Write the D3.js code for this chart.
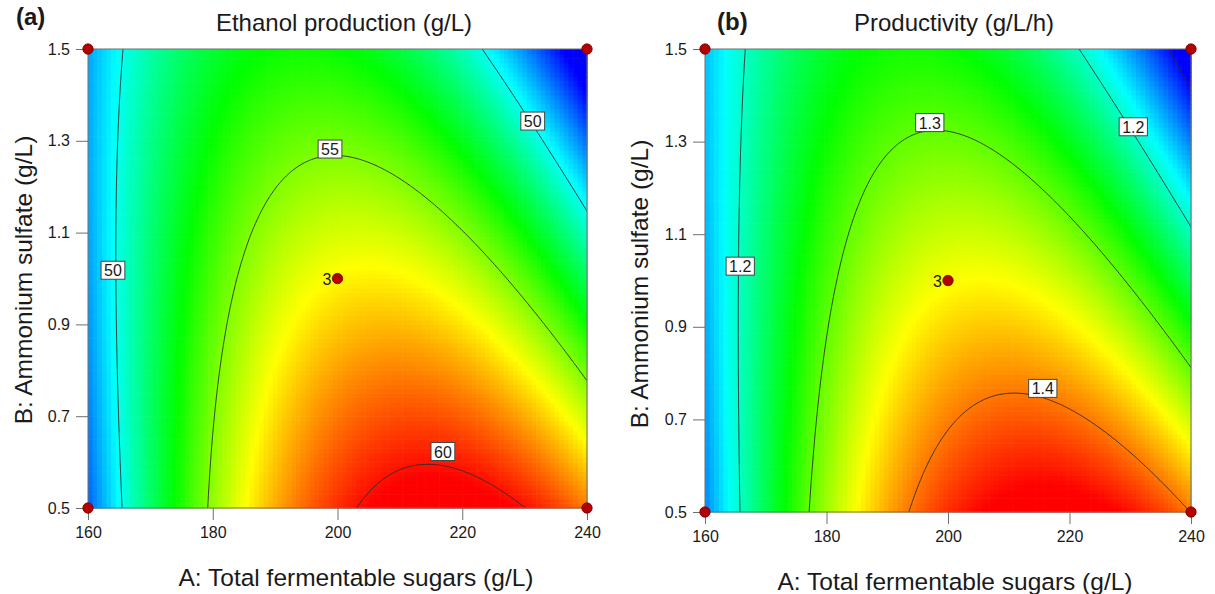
<!DOCTYPE html>
<html>
<head>
<meta charset="utf-8">
<script src="https://cdn.jsdelivr.net/npm/d3@7"></script>
<style>
  body { margin: 0; background: #fff; }
  text { font-family: "Liberation Sans", Arial, sans-serif; fill: #1a1a1a; }
</style>
</head>
<body>
<svg id="chart" width="1215" height="594"></svg>
<script>
// factor ranges (actual units) and tick labels
var sugarRange = [160, 240];
var sulfateRange = [0.5, 1.5];
var sugarTicks = [160, 180, 200, 220, 240];
var sulfateTicks = [0.5, 0.7, 0.9, 1.1, 1.3, 1.5];

// quadratic model in coded units: Intercept, A, B, AB, A^2, B^2
var modelTerms = ["Intercept", "A", "B", "AB", "A^2", "B^2"];
var ethanolCoef = [56.80, 1.81, -3.17, -3.65, -6.58, -0.35];
var productivityCoef = [1.3518, 0.042, -0.0775, -0.0878, -0.1553, -0.0044];

// range of the observed responses, used for the colour ramp
var ethanolColorRange = [46.3, 60.2];
var productivityColorRange = [1.095, 1.44];

// contour levels and the labelled ones (label anchor in factor units)
var ethanolLevels = [50, 55, 60];
var ethanolLabelText = ["50", "55", "50", "60"];
var ethanolLabelA = [164.0, 198.8, 231.3, 216.9];
var ethanolLabelB = [1.018, 1.282, 1.343, 0.623];

var productivityLevels = [1.1, 1.2, 1.3, 1.4];
var productivityLabelText = ["1.2", "1.3", "1.2", "1.4"];
var productivityLabelA = [165.8, 197.0, 230.5, 215.6];
var productivityLabelB = [1.031, 1.341, 1.332, 0.767];

// design points
var designA = [160, 160, 240, 240, 200];
var designB = [0.5, 1.5, 0.5, 1.5, 1.0];
var designReps = [1, 1, 1, 1, 3];

var svg = d3.select("#chart");

var panels = [
  {tag: "(a)", title: "Ethanol production (g/L)", coef: ethanolCoef, levels: ethanolLevels,
   colorRange: ethanolColorRange,
   labText: ethanolLabelText, labA: ethanolLabelA, labB: ethanolLabelB,
   left: 88, right: 587, top: 49, bottom: 508, tagX: 16, tagY: 25,
   titleX: 344, xTitleX: 356, yTitleX: 32, yTitleY: 280},
  {tag: "(b)", title: "Productivity (g/L/h)", coef: productivityCoef, levels: productivityLevels,
   colorRange: productivityColorRange,
   labText: productivityLabelText, labA: productivityLabelA, labB: productivityLabelB,
   left: 705, right: 1191, top: 49, bottom: 512, tagX: 717, tagY: 30,
   titleX: 954, xTitleX: 955, yTitleX: 648, yTitleY: 284}
];

function predict(coef, a, b) {
  var ca = (sugarRange[0] + sugarRange[1]) / 2, ha = (sugarRange[1] - sugarRange[0]) / 2;
  var cb = (sulfateRange[0] + sulfateRange[1]) / 2, hb = (sulfateRange[1] - sulfateRange[0]) / 2;
  var x1 = (a - ca) / ha, x2 = (b - cb) / hb;
  return coef[0] + coef[1] * x1 + coef[2] * x2 + coef[3] * x1 * x2 + coef[4] * x1 * x1 + coef[5] * x2 * x2;
}

panels.forEach(function(p, pi) {
  var x = d3.scaleLinear().domain(sugarRange).range([p.left, p.right]);
  var y = d3.scaleLinear().domain(sulfateRange).range([p.bottom, p.top]);
  var g = svg.append("g");

  // heat map cells
  var nx = Math.round((p.right - p.left) / 4.6), ny = Math.round((p.bottom - p.top) / 4.6);
  var dA = (sugarRange[1] - sugarRange[0]) / nx, dB = (sulfateRange[1] - sulfateRange[0]) / ny;
  var cells = [];
  for (var j = 0; j < ny; j++) {
    for (var i = 0; i < nx; i++) {
      var a = sugarRange[0] + (i + 0.5) * dA, b = sulfateRange[0] + (j + 0.5) * dB;
      cells.push({a0: sugarRange[0] + i * dA, b0: sulfateRange[0] + j * dB, v: predict(p.coef, a, b)});
    }
  }
  var lo = p.colorRange[0], hi = p.colorRange[1];
  var color = d3.scaleLinear()
    .domain(d3.range(5).map(function(k) { return lo + k * (hi - lo) / 4; }))
    .range(["#0000ff", "#00ffff", "#00ff00", "#ffff00", "#ff0000"])
    .clamp(true);

  g.selectAll("rect.cell")
    .data(cells)
    .enter().append("rect")
    .attr("class", "cell")
    .attr("x", function(d) { return x(d.a0); })
    .attr("y", function(d) { return y(d.b0 + dB); })
    .attr("width", x(sugarRange[0] + dA) - x(sugarRange[0]) + 0.6)
    .attr("height", y(sulfateRange[0]) - y(sulfateRange[0] + dB) + 0.6)
    .attr("fill", function(d) { return color(d.v); });

  // contour lines (grid slightly wider than the plot, then clipped)
  var ext = 0.04;
  var gA0 = sugarRange[0] - ext * (sugarRange[1] - sugarRange[0]);
  var gA1 = sugarRange[1] + ext * (sugarRange[1] - sugarRange[0]);
  var gB0 = sulfateRange[0] - ext * (sulfateRange[1] - sulfateRange[0]);
  var gB1 = sulfateRange[1] + ext * (sulfateRange[1] - sulfateRange[0]);
  var n = 260, m = 260;
  var sA = (gA1 - gA0) / (n - 1), sB = (gB1 - gB0) / (m - 1);
  var grid = new Array(n * m);
  for (var jj = 0; jj < m; jj++)
    for (var ii = 0; ii < n; ii++)
      grid[jj * n + ii] = predict(p.coef, gA0 + ii * sA, gB0 + jj * sB);

  var proj = d3.geoTransform({
    point: function(gx, gy) {
      this.stream.point(x(gA0 + (gx - 0.5) * sA), y(gB0 + (gy - 0.5) * sB));
    }
  });
  var path = d3.geoPath(proj);
  var clipId = "clip" + pi;
  svg.append("clipPath").attr("id", clipId).append("rect")
    .attr("x", p.left).attr("y", p.top)
    .attr("width", p.right - p.left).attr("height", p.bottom - p.top);

  g.append("g").attr("clip-path", "url(#" + clipId + ")")
    .selectAll("path")
    .data(d3.contours().size([n, m]).thresholds(p.levels)(grid))
    .enter().append("path")
    .attr("d", path)
    .attr("fill", "none")
    .attr("stroke", "#2b2b2b")
    .attr("stroke-width", 0.9);

  // frame
  g.append("rect")
    .attr("x", p.left).attr("y", p.top)
    .attr("width", p.right - p.left).attr("height", p.bottom - p.top)
    .attr("fill", "none").attr("stroke", "#6e6e6e").attr("stroke-width", 1);

  // axes
  var xAxis = d3.axisBottom(x).tickValues(sugarTicks).tickSize(12).tickPadding(7).tickFormat(d3.format("d"));
  var yAxis = d3.axisLeft(y).tickValues(sulfateTicks).tickSize(12).tickPadding(6).tickFormat(d3.format(".1f"));
  [g.append("g").attr("transform", "translate(0," + p.bottom + ")").call(xAxis),
   g.append("g").attr("transform", "translate(" + p.left + ",0)").call(yAxis)].forEach(function(ax) {
    ax.select(".domain").remove();
    ax.selectAll("line").attr("stroke", "#6e6e6e");
    ax.selectAll("text").style("font-size", "16px").attr("fill", "#1a1a1a");
  });

  // contour labels
  p.labText.forEach(function(t, k) {
    var lx = x(p.labA[k]), ly = y(p.labB[k]);
    var lg = g.append("g");
    var txt = lg.append("text").attr("x", lx).attr("y", ly + 6)
      .attr("text-anchor", "middle").style("font-size", "16px").text(t);
    var w = txt.node().getComputedTextLength() + 6;
    lg.insert("rect", "text")
      .attr("x", lx - w / 2).attr("y", ly - 9)
      .attr("width", w).attr("height", 18)
      .attr("fill", "#fff").attr("stroke", "#444").attr("stroke-width", 1);
  });

  // design points
  designA.forEach(function(a, k) {
    g.append("circle")
      .attr("cx", x(a)).attr("cy", y(designB[k])).attr("r", 5.2)
      .attr("fill", "#b30000").attr("stroke", "#7a0000").attr("stroke-width", 0.8);
    if (designReps[k] > 1) {
      g.append("text").attr("x", x(a) - 6).attr("y", y(designB[k]) + 6)
        .attr("text-anchor", "end").style("font-size", "16px").text(designReps[k]);
    }
  });

  // titles
  g.append("text").attr("x", p.tagX).attr("y", p.tagY)
    .style("font-size", "24px").style("font-weight", "bold").text(p.tag);
  g.append("text").attr("x", p.titleX).attr("y", 31)
    .attr("text-anchor", "middle").style("font-size", "24px").text(p.title);
  g.append("text").attr("x", p.xTitleX).attr("y", p.bottom + 78)
    .attr("text-anchor", "middle").style("font-size", "24.5px").text("A: Total fermentable sugars (g/L)");
  g.append("text")
    .attr("transform", "translate(" + p.yTitleX + "," + p.yTitleY + ") rotate(-90)")
    .attr("text-anchor", "middle").style("font-size", "24.5px").text("B: Ammonium sulfate (g/L)");
});
</script>
</body>
</html>
